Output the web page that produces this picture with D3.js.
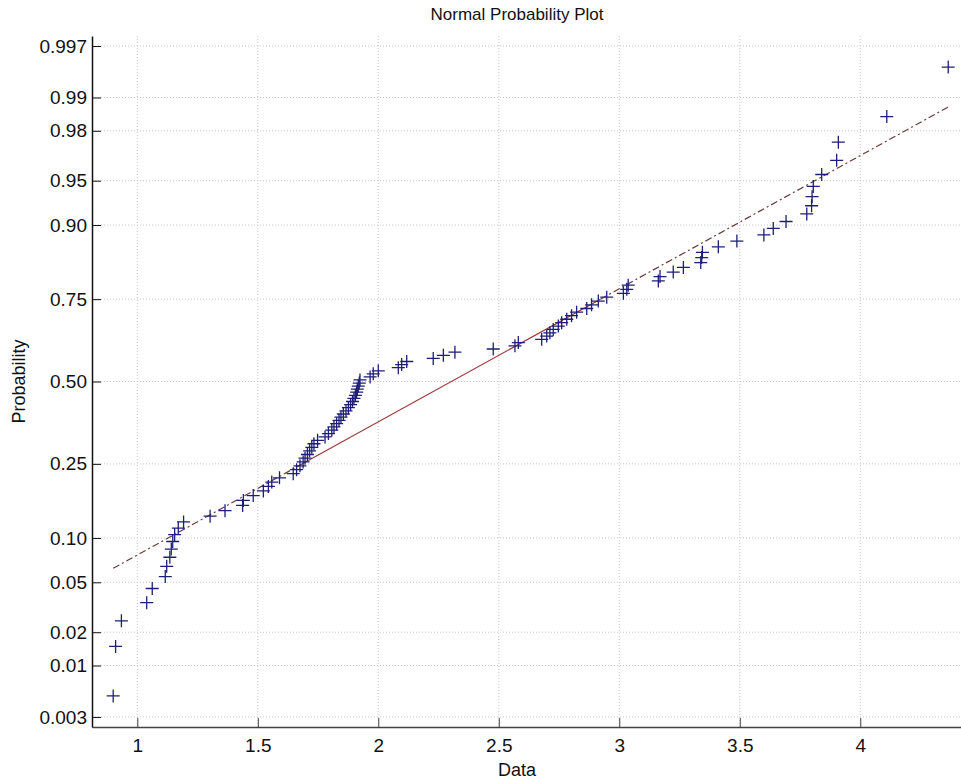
<!DOCTYPE html>
<html>
<head>
<meta charset="utf-8">
<script src="https://cdn.jsdelivr.net/npm/d3@7"></script>
<style>
  body { margin: 0; background: #fff; }
  text { font-family: "Liberation Sans", Arial, sans-serif; fill: #111; }
</style>
</head>
<body>
<div id="chart"></div>
<script>
const WIDTH = 961;
const HEIGHT = 779;

// sorted sample values
const dataValues = [
  0.900, 0.910, 0.934, 1.039, 1.062, 1.116, 1.122, 1.135, 1.141, 1.147,
  1.155, 1.170, 1.192, 1.302, 1.364, 1.437, 1.440, 1.481, 1.523, 1.544,
  1.558, 1.590, 1.647, 1.661, 1.675, 1.688, 1.696, 1.706, 1.715, 1.724,
  1.733, 1.748, 1.779, 1.793, 1.807, 1.816, 1.827, 1.837, 1.845, 1.855,
  1.866, 1.876, 1.885, 1.893, 1.899, 1.905, 1.910, 1.913, 1.917, 1.921,
  1.924, 1.966, 1.979, 2.000, 2.083, 2.097, 2.118, 2.228, 2.270, 2.318,
  2.477, 2.567, 2.581, 2.678, 2.699, 2.712, 2.726, 2.747, 2.761, 2.782,
  2.802, 2.823, 2.865, 2.885, 2.913, 2.948, 3.017, 3.031, 3.037, 3.162,
  3.169, 3.224, 3.266, 3.338, 3.342, 3.345, 3.411, 3.488, 3.600, 3.639,
  3.692, 3.778, 3.798, 3.800, 3.805, 3.840, 3.902, 3.909, 4.110, 4.365
];

const probTicks = [0.003, 0.01, 0.02, 0.05, 0.10, 0.25, 0.50, 0.75, 0.90, 0.95, 0.98, 0.99, 0.997];
const probLabels = ["0.003", "0.01", "0.02", "0.05", "0.10", "0.25", "0.50", "0.75", "0.90", "0.95", "0.98", "0.99", "0.997"];
const xTicks = [1, 1.5, 2, 2.5, 3, 3.5, 4];

// inverse normal cdf (Acklam)
function norminv(p) {
  const a = [-3.969683028665376e+01, 2.209460984245205e+02, -2.759285104469687e+02, 1.383577518672690e+02, -3.066479806614716e+01, 2.506628277459239e+00];
  const b = [-5.447609879822406e+01, 1.615858368580409e+02, -1.556989798598866e+02, 6.680131188771972e+01, -1.328068155288572e+01];
  const c = [-7.784894002430293e-03, -3.223964580411365e-01, -2.400758277161838e+00, -2.549732539343734e+00, 4.374664141464968e+00, 2.938163982698783e+00];
  const d = [7.784695709041462e-03, 3.224671290700398e-01, 2.445134137142996e+00, 3.754408661907416e+00];
  const plow = 0.02425, phigh = 1 - plow;
  let q, r;
  if (p < plow) {
    q = Math.sqrt(-2 * Math.log(p));
    return (((((c[0]*q+c[1])*q+c[2])*q+c[3])*q+c[4])*q+c[5]) / ((((d[0]*q+d[1])*q+d[2])*q+d[3])*q+1);
  } else if (p <= phigh) {
    q = p - 0.5; r = q * q;
    return (((((a[0]*r+a[1])*r+a[2])*r+a[3])*r+a[4])*r+a[5])*q / (((((b[0]*r+b[1])*r+b[2])*r+b[3])*r+b[4])*r+1);
  } else {
    q = Math.sqrt(-2 * Math.log(1 - p));
    return -(((((c[0]*q+c[1])*q+c[2])*q+c[3])*q+c[4])*q+c[5]) / ((((d[0]*q+d[1])*q+d[2])*q+d[3])*q+1);
  }
}

const svg = d3.select("#chart").append("svg")
  .attr("width", WIDTH)
  .attr("height", HEIGHT);

const plotLeft = 92, plotTop = 36, plotBottom = 727, plotRight = 961;

const x = d3.scaleLinear().domain([0.812, 4.418]).range([plotLeft, plotRight]);
const zMax = 2.83;
const y = d3.scaleLinear().domain([-zMax, zMax]).range([plotBottom, plotTop]);
const yP = p => y(norminv(p));

// grid
svg.append("g").selectAll("line").data(xTicks).join("line")
  .attr("x1", d => x(d)).attr("x2", d => x(d))
  .attr("y1", plotTop).attr("y2", plotBottom)
  .attr("stroke", "#c8c8c8").attr("stroke-dasharray", "1,2");

svg.append("g").selectAll("line").data(probTicks).join("line")
  .attr("x1", plotLeft).attr("x2", plotRight)
  .attr("y1", d => yP(d)).attr("y2", d => yP(d))
  .attr("stroke", "#c8c8c8").attr("stroke-dasharray", "1,2");

// axes
const xAxis = svg.append("g")
  .attr("transform", `translate(0,${plotBottom})`)
  .call(d3.axisBottom(x).tickValues(xTicks).tickSizeInner(-9).tickSizeOuter(0).tickPadding(12).tickFormat(d3.format("")));
xAxis.select(".domain").attr("stroke", "#444").attr("stroke-width", 1.5);
xAxis.selectAll(".tick line").attr("stroke", "#444");
xAxis.selectAll("text").attr("font-size", 19).attr("font-family", "Liberation Sans, Arial, sans-serif");

const yAxis = svg.append("g")
  .attr("transform", `translate(${plotLeft},0)`)
  .call(d3.axisLeft(y).tickValues(probTicks.map(norminv)).tickSizeInner(-9).tickSizeOuter(0).tickPadding(5)
    .tickFormat((d, i) => probLabels[i]));
yAxis.select(".domain").attr("stroke", "#111").attr("stroke-width", 1.5);
yAxis.selectAll(".tick line").attr("stroke", "#111");
yAxis.selectAll("text").attr("font-size", 19).attr("font-family", "Liberation Sans, Arial, sans-serif");

// reference line through quartiles
const q1 = d3.quantile(dataValues, 0.25);
const q3 = d3.quantile(dataValues, 0.75);
const z1 = norminv(0.25), z3 = norminv(0.75);
const slope = (z3 - z1) / (q3 - q1);
const lineZ = v => z1 + (v - q1) * slope;
const xMin = d3.min(dataValues), xMax = d3.max(dataValues);

const lineGen = d3.line().x(d => x(d)).y(d => y(lineZ(d)));
svg.append("path").datum([xMin, q1])
  .attr("d", lineGen).attr("fill", "none")
  .attr("stroke", "#6b3a3a").attr("stroke-width", 1.2).attr("stroke-dasharray", "7,3,2,3");
svg.append("path").datum([q3, xMax])
  .attr("d", lineGen).attr("fill", "none")
  .attr("stroke", "#6b3a3a").attr("stroke-width", 1.2).attr("stroke-dasharray", "7,3,2,3");
svg.append("path").datum([q1, q3])
  .attr("d", lineGen).attr("fill", "none")
  .attr("stroke", "#9c3b3b").attr("stroke-width", 1.2);

// data markers
const n = dataValues.length;
svg.append("g").selectAll("path").data(dataValues).join("path")
  .attr("transform", (d, i) => `translate(${x(d)},${yP((i + 0.5) / n)})`)
  .attr("d", "M-6.5,0H6.5M0,-6.5V6.5")
  .attr("stroke", "#1e1e78").attr("stroke-width", 1.3).attr("fill", "none");

// labels
svg.append("text").attr("x", 517).attr("y", 20)
  .attr("text-anchor", "middle").attr("font-size", 17)
  .text("Normal Probability Plot");
svg.append("text").attr("x", 517).attr("y", 776)
  .attr("text-anchor", "middle").attr("font-size", 18)
  .text("Data");
svg.append("text")
  .attr("transform", `translate(25,${y(0)}) rotate(-90)`)
  .attr("text-anchor", "middle").attr("font-size", 18)
  .text("Probability");
</script>
</body>
</html>
